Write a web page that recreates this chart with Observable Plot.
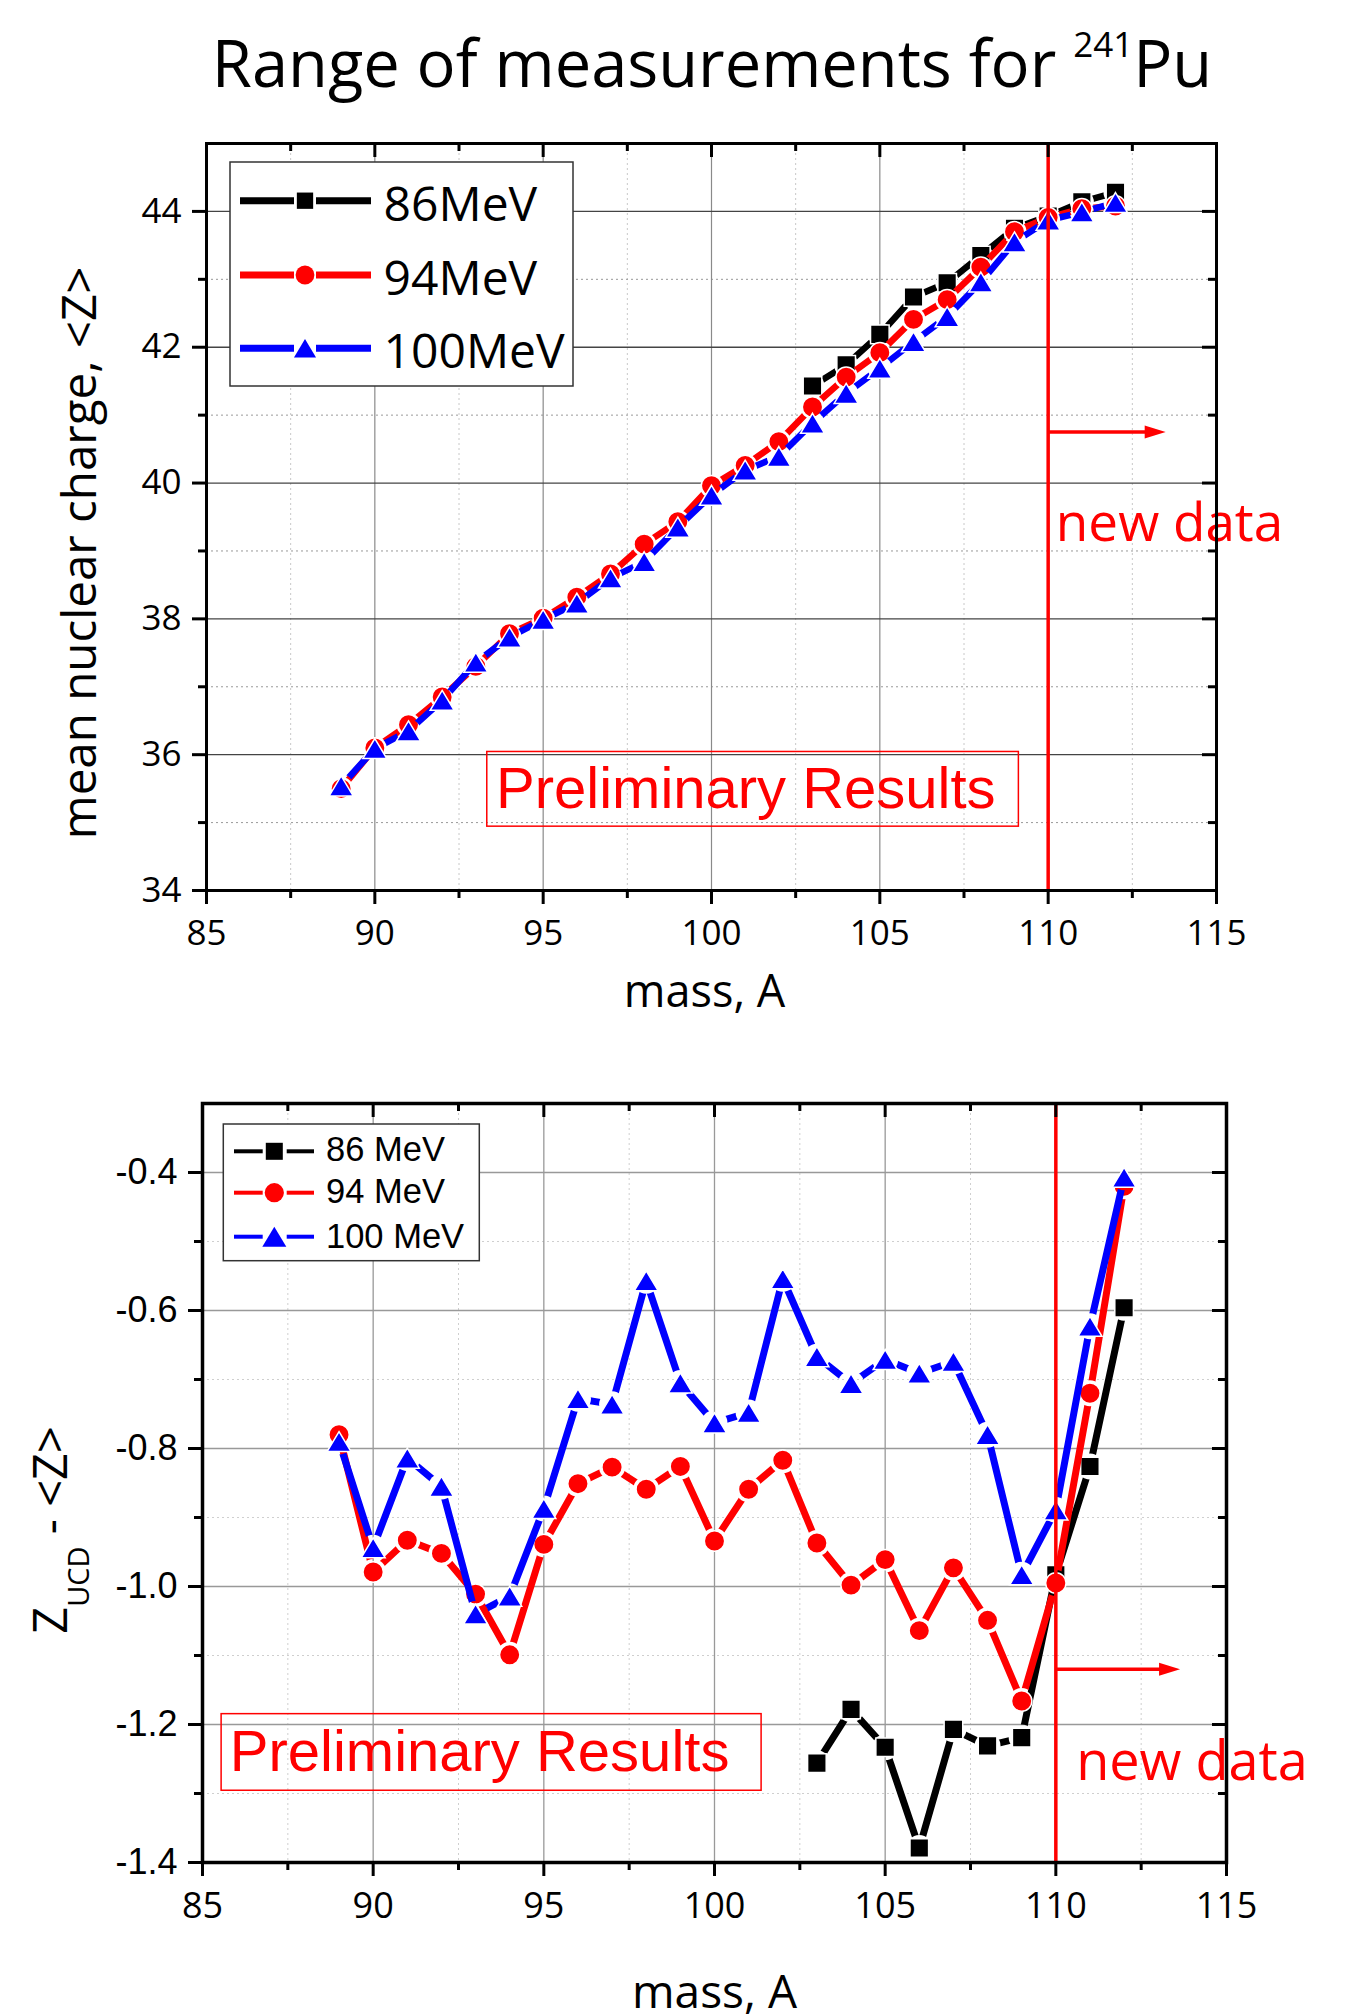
<!DOCTYPE html>
<html><head><meta charset="utf-8">
<script src="https://cdn.jsdelivr.net/npm/d3@7"></script>
<script src="https://cdn.jsdelivr.net/npm/@observablehq/plot@0.6"></script>
<style>
html,body{margin:0;padding:0;background:#fff;}
body{width:1357px;height:2014px;overflow:hidden;position:relative;font-family:"Open Sans",sans-serif;}
#title{position:absolute;left:0;top:30px;width:1424px;text-align:center;font-size:65px;line-height:65px;white-space:nowrap;color:#000;}
#title .sup{font-size:35px;position:relative;top:-30px;}
#top{position:absolute;left:0;top:100px;}
#bottom{position:absolute;left:0;top:1040px;}
</style></head><body>
<div id="title">Range of measurements for <span class="sup">241</span>Pu</div>
<div id="top"></div><div id="bottom"></div>
<script>
// ---------- data ----------
const mass = [89,90,91,92,93,94,95,96,97,98,99,100,101,102,103,104,105,106,107,108,109,110,111,112];
const mass86 = [103,104,105,106,107,108,109,110,111,112];

// top panel: mean nuclear charge <Z>
const zMean86  = [41.43,41.74,42.19,42.74,42.95,43.35,43.75,43.93,44.14,44.28];
const zMean94  = [35.50,36.10,36.44,36.85,37.30,37.78,38.01,38.32,38.66,39.10,39.43,39.96,40.26,40.61,41.12,41.56,41.92,42.41,42.70,43.18,43.70,43.91,44.04,44.08];
const zMean100 = [35.54,36.09,36.35,36.80,37.36,37.73,37.99,38.23,38.60,38.84,39.35,39.82,40.19,40.39,40.88,41.32,41.69,42.08,42.45,42.96,43.55,43.87,43.99,44.13];

// bottom panel: Z_UCD - <Z>
const dZ86  = [-1.256,-1.178,-1.233,-1.379,-1.207,-1.231,-1.219,-0.983,-0.826,-0.596];
const dZ94  = [-0.780,-0.979,-0.933,-0.952,-1.011,-1.099,-0.939,-0.851,-0.827,-0.859,-0.826,-0.934,-0.859,-0.817,-0.937,-0.998,-0.961,-1.064,-0.973,-1.049,-1.166,-0.995,-0.720,-0.420];
const dZ100 = [-0.790,-0.944,-0.814,-0.855,-1.040,-1.014,-0.887,-0.728,-0.736,-0.557,-0.705,-0.763,-0.748,-0.554,-0.667,-0.706,-0.671,-0.691,-0.674,-0.780,-0.983,-0.889,-0.623,-0.407];

const legendTop = ["86MeV","94MeV","100MeV"];
const legendBottom = ["86 MeV","94 MeV","100 MeV"];

const xMajor = [85,90,95,100,105,110,115];
const xMinor = [87.5,92.5,97.5,102.5,107.5,112.5];
const yTopMajor = [34,36,38,40,42,44];
const yTopMinor = [35,37,39,41,43];
const yBotMajor = [-1.4,-1.2,-1.0,-0.8,-0.6,-0.4];
const yBotMinor = [-1.3,-1.1,-0.9,-0.7,-0.5];

const newDataMass = [110];
const topArrow = [{x1:110, x2:113.49, y:40.75}];
const botArrow = [{x1:110, x2:113.64, y:-1.12}];
const topNewData = [{x:110, y:39.39, text:"new data"}];
const botNewData = [{x:110, y:-1.2555, text:"new data"}];
const topPrelim = [{x1:93.34, x2:109.13, y1:34.94, y2:36.04, tx:93.6, ty:35.49, text:"Preliminary Results"}];
const botPrelim = [{x1:85.56, x2:101.38, y1:-1.296, y2:-1.185, tx:85.8, ty:-1.240, text:"Preliminary Results"}];

// ---------- helpers ----------
const rows = (xs, ys) => xs.map((x, i) => ({x, y: ys[i]}));
const triSym = {draw(ctx, size){const r = Math.sqrt(size/Math.PI); ctx.moveTo(0,-r); ctx.lineTo(1.2*r, r); ctx.lineTo(-1.2*r, r); ctx.closePath();}};
const arrowHead = {draw(ctx){ctx.moveTo(0,0); ctx.lineTo(-21,-6.5); ctx.lineTo(-21,6.5); ctx.closePath();}};
const colors = ["black","red","blue"];
const symbols = ["square","circle",triSym];
const radii = [10.5, 10.2, 10];
const OS = '"Open Sans", sans-serif';
const LS = '"Liberation Sans", Arial, sans-serif';

function seriesMarks(list, lw){
  const out = [];
  list.forEach((data, i) => {
    out.push(Plot.line(data, {x:"x", y:"y", stroke: colors[i], strokeWidth: lw, strokeLinecap:"butt"}));
    out.push(Plot.dot(data, {x:"x", y:"y", symbol: symbols[i], r: radii[i], fill: colors[i], stroke:"white", strokeWidth:1.5}));
  });
  return out;
}
function frameTicks(yMajor, yMinor, W, H){
  return [
    Plot.tickX(xMinor, {insetTop: H, insetBottom: -8, stroke:"black", strokeWidth:3}),
    Plot.tickX(xMajor, {insetBottom: H-14, stroke:"black", strokeWidth:3}),
    Plot.tickX(xMinor, {insetBottom: H-8, stroke:"black", strokeWidth:3}),
    Plot.tickY(yMinor, {insetRight: W, insetLeft: -8, stroke:"black", strokeWidth:3}),
    Plot.tickY(yMajor, {insetLeft: W-14, stroke:"black", strokeWidth:3}),
    Plot.tickY(yMinor, {insetLeft: W-8, stroke:"black", strokeWidth:3})
  ];
}
function gapLines(fig, list, gapR, uid){
  const lines = fig.querySelectorAll('g[aria-label="line"]');
  const sx = fig.scale("x"), sy = fig.scale("y");
  const w = +fig.getAttribute("width"), h = +fig.getAttribute("height");
  const defs = d3.select(fig).insert("defs", ":first-child");
  list.forEach((data, i) => {
    const id = uid + i;
    const m = defs.append("mask").attr("id", id).attr("maskUnits","userSpaceOnUse")
      .attr("x",-10).attr("y",-10).attr("width",w+20).attr("height",h+20);
    m.append("rect").attr("x",-10).attr("y",-10).attr("width",w+20).attr("height",h+20).attr("fill","white");
    data.forEach(d => m.append("circle").attr("cx", sx.apply(d.x)).attr("cy", sy.apply(d.y)).attr("r", gapR).attr("fill","black"));
    if (lines[i]) lines[i].setAttribute("mask", `url(#${id})`);
  });
}
function drawLegend(fig, cfg){
  const g = d3.select(fig).append("g").attr("text-anchor","start");
  g.append("rect").attr("x",cfg.box[0]).attr("y",cfg.box[1]).attr("width",cfg.box[2]).attr("height",cfg.box[3])
    .attr("fill","white").attr("stroke","#333").attr("stroke-width",1.5);
  cfg.labels.forEach((lab, i) => {
    const cy = cfg.rowY[i];
    g.append("line").attr("x1",cfg.line[0]).attr("x2",cfg.line[1]).attr("y1",cy).attr("y2",cy).attr("stroke",colors[i]).attr("stroke-width",cfg.lw);
    g.append("line").attr("x1",cfg.line[2]).attr("x2",cfg.line[3]).attr("y1",cy).attr("y2",cy).attr("stroke",colors[i]).attr("stroke-width",cfg.lw);
    const type = i === 0 ? d3.symbolSquare : i === 1 ? d3.symbolCircle : triSym;
    const r = cfg.r[i];
    g.append("path").attr("d", d3.symbol(type, r*r*Math.PI)()).attr("transform",`translate(${cfg.mx},${cy})`).attr("fill",colors[i]);
    g.append("text").attr("x",cfg.tx).attr("y",cfg.baseY[i]).attr("text-anchor","start").attr("font-family",cfg.font).attr("font-size",cfg.fs).attr("fill","black").text(lab);
  });
}

// ---------- top panel ----------
const TW = 1357 - 206 - 141, TH = 930 - 43 - 140;
const topSeries = [rows(mass86, zMean86), rows(mass, zMean94), rows(mass, zMean100)];
const topFig = Plot.plot({
  width: 1357, height: 930, marginTop: 43, marginBottom: 140, marginLeft: 206, marginRight: 141,
  style: {fontFamily: OS, background: "transparent", color: "black"},
  x: {domain: [85,115], label: null},
  y: {domain: [34,45], label: null},
  marks: [
    Plot.ruleX(xMinor, {stroke:"#c8c8c8", strokeWidth:1, strokeDasharray:"2,3"}),
    Plot.ruleY(yTopMinor, {stroke:"#999", strokeWidth:1, strokeDasharray:"2,3"}),
    Plot.ruleX(xMajor, {stroke:"#8a8a8a", strokeWidth:1.2}),
    Plot.ruleY(yTopMajor, {stroke:"#444", strokeWidth:1.3}),
    ...seriesMarks(topSeries, 6.5),
    Plot.rect(topPrelim, {x1:"x1", x2:"x2", y1:"y1", y2:"y2", fill:"none", stroke:"red", strokeWidth:1.5}),
    Plot.text(topPrelim, {x:"tx", y:"ty", text:"text", textAnchor:"start", fill:"red", fontFamily: LS, fontSize:58}),
    Plot.ruleX(newDataMass, {stroke:"red", strokeWidth:3.5}),
    Plot.link(topArrow, {x1:"x1", x2: d => d.x2 - 0.3, y1:"y", y2:"y", stroke:"red", strokeWidth:3.5}),
    Plot.dot(topArrow, {x:"x2", y:"y", symbol: arrowHead, r:5, fill:"red"}),
    Plot.text(topNewData, {x:"x", y:"y", text:"text", dx:7.7, textAnchor:"start", fill:"red", fontFamily: OS, fontSize:53}),
    Plot.axisX(xMajor, {anchor:"bottom", tickSize:14, tickPadding:16, strokeWidth:3, fontSize:35, fontFamily: OS, label:null, tickFormat: d => String(d)}),
    Plot.axisY(yTopMajor, {anchor:"left", tickSize:14, tickPadding:11, strokeWidth:3, fontSize:35, fontFamily: OS, label:null, tickFormat: d => String(d)}),
    ...frameTicks(yTopMajor, yTopMinor, TW, TH),
    Plot.text(["mass, A"], {frameAnchor:"bottom", text: d => d, dx:-7, dy:116.6, fontSize:45, fontFamily: OS, fill:"black"}),
    Plot.text(["mean nuclear charge, <Z>"], {frameAnchor:"left", text: d => d, rotate:-90, dx:-126, dy:36, fontSize:47.5, fontFamily: OS, fill:"black", textAnchor:"middle"}),
    Plot.frame({stroke:"black", strokeWidth:3})
  ]
});
document.getElementById("top").appendChild(topFig);
gapLines(topFig, topSeries, 12, "gt");
drawLegend(topFig, {
  box:[230,62,343,224], rowY:[100.7,175,248.3], baseY:[120.7,195,268.3],
  line:[240,294,316,371], lw:7, mx:305, r:[9.2,9.4,9.2], tx:383.6, fs:48, font: OS, labels: legendTop
});

// ---------- bottom panel ----------
const BW = 1357 - 202 - 131, BH = 974 - 63 - 152;
const botSeries = [rows(mass86, dZ86), rows(mass, dZ94), rows(mass, dZ100)];
const botFig = Plot.plot({
  width: 1357, height: 974, marginTop: 63, marginBottom: 152, marginLeft: 202, marginRight: 131,
  style: {fontFamily: OS, background: "transparent", color: "black"},
  x: {domain: [85,115], label: null},
  y: {domain: [-1.4,-0.3], label: null},
  marks: [
    Plot.ruleX(xMinor, {stroke:"#cfcfcf", strokeWidth:1, strokeDasharray:"2,3"}),
    Plot.ruleY(yBotMinor, {stroke:"#cfcfcf", strokeWidth:1, strokeDasharray:"2,3"}),
    Plot.ruleX(xMajor, {stroke:"#999", strokeWidth:1.3}),
    Plot.ruleY(yBotMajor, {stroke:"#999", strokeWidth:1.3}),
    ...seriesMarks(botSeries, 7),
    Plot.rect(botPrelim, {x1:"x1", x2:"x2", y1:"y1", y2:"y2", fill:"none", stroke:"red", strokeWidth:1.5}),
    Plot.text(botPrelim, {x:"tx", y:"ty", text:"text", textAnchor:"start", fill:"red", fontFamily: LS, fontSize:58}),
    Plot.ruleX(newDataMass, {stroke:"red", strokeWidth:3.5}),
    Plot.link(botArrow, {x1:"x1", x2: d => d.x2 - 0.3, y1:"y", y2:"y", stroke:"red", strokeWidth:3.5}),
    Plot.dot(botArrow, {x:"x2", y:"y", symbol: arrowHead, r:5, fill:"red"}),
    Plot.text(botNewData, {x:"x", y:"y", text:"text", dx:20.3, textAnchor:"start", fill:"red", fontFamily: OS, fontSize:54}),
    Plot.axisX(xMajor, {anchor:"bottom", tickSize:14, tickPadding:16, strokeWidth:3, fontSize:36, fontFamily: OS, label:null, tickFormat: d => String(d)}),
    Plot.axisY(yBotMajor, {anchor:"left", tickSize:14, tickPadding:11, strokeWidth:3, fontSize:36, fontFamily: LS, label:null, tickFormat: d => d.toFixed(1)}),
    ...frameTicks(yBotMajor, yBotMinor, BW, BH),
    Plot.text(["mass, A"], {frameAnchor:"bottom", text: d => d, dx:0, dy:145, fontSize:46, fontFamily: OS, fill:"black"}),
    Plot.frame({stroke:"black", strokeWidth:3.5})
  ]
});
document.getElementById("bottom").appendChild(botFig);
gapLines(botFig, botSeries, 13, "gb");
drawLegend(botFig, {
  box:[223.3,84,256,136.7], rowY:[111.3,152.7,196.7], baseY:[120.7,163.3,208.3],
  line:[234,262.7,286.7,314], lw:4, mx:274.3, r:[9.6,9.6,10], tx:326, fs:34.5, font: LS, labels: legendBottom
});
// y-axis title with subscript
const zl = d3.select(botFig).append("text")
  .attr("transform","translate(67,490) rotate(-90)")
  .attr("text-anchor","middle").attr("font-family", OS).attr("font-size",47).attr("fill","black");
zl.append("tspan").text("Z");
zl.append("tspan").attr("dy",22).attr("font-size",29).text("UCD");
zl.append("tspan").attr("dy",-22).text(" - <Z>");
</script></body></html>
